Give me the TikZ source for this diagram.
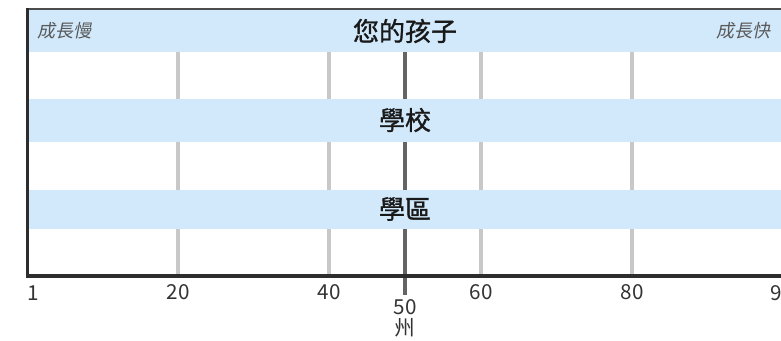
\documentclass[tikz,border=0pt]{standalone}
\usepackage{fontspec}
\setmainfont{Noto Sans CJK TC}
\newfontfamily\slantfont[FakeSlant=0.2]{Noto Sans CJK TC}
\newfontfamily\titlefont[FakeBold=1.2]{Noto Sans CJK TC}
\usetikzlibrary{positioning}
\definecolor{bandblue}{RGB}{209,233,251}
\definecolor{gridgray}{RGB}{200,200,200}
\definecolor{markgray}{RGB}{100,100,100}
\definecolor{axisdark}{RGB}{45,45,45}
\tikzset{font=\fontsize{15.5}{18}\selectfont}
\tikzset{every node/.append style={inner sep=0pt, text=black!80}}
\tikzset{band/.style={fill=bandblue, draw=none}}
\tikzset{rowtitle/.style={font=\titlefont\fontsize{19.5}{22}\selectfont, text=black!90}}
\tikzset{pace/.style={font=\slantfont\fontsize{13.5}{16}\selectfont, text=black!65}}

\begin{document}
\begin{tikzpicture}[x=0.75pt, y=-0.75pt]
  \useasboundingbox (0,0) rectangle (781,340);

  \foreach \x in {178,329,481,632}{
               \draw[gridgray, line width=3pt] (\x,52)--(\x,276);
  };
  \draw[markgray, line width=3pt] (405,52)--(405,295);

  \fill[band] (27,10) rectangle (781,52);
  \fill[band] (27,99) rectangle (781,142);
  \fill[band] (27,190) rectangle (781,229);

  \draw[black!70, line width=1.7pt] (27,9)--(781,9);
  \draw[axisdark, line width=2.5pt] (27.5,8.2)--(27.5,276)--(781,276);

  \node[rowtitle] (child) at (405,31) {您的孩子};
  \node[rowtitle] (school) at (405,120) {學校};
  \node[rowtitle] (district) at (405,209) {學區};
  \node[pace, anchor=west] (slow) at (37,31) {成長慢};
  \node[pace, anchor=east] (fast) at (771,31) {成長快};

  \node[anchor=west] (t1) at (27,293) {1};
  \foreach \v/\x in {20/178, 40/329, 60/481, 80/632}{
               \node (t\v) at (\x,292.5) {\v};
  };
  \node[anchor=west] (t99) at (770,293) {99};
  \node (t50) at (405,307.5) {50};
  \node (state) at (405,328) {州};
\end{tikzpicture}
\end{document}
